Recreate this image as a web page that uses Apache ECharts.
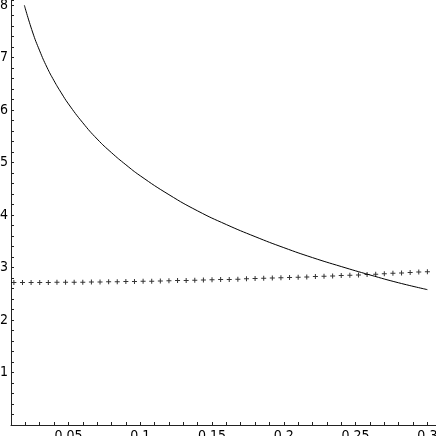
<!DOCTYPE html>
<html>
<head>
<meta charset="utf-8">
<script src="https://cdn.jsdelivr.net/npm/echarts@6/dist/echarts.min.js"></script>
<style>
html, body { margin: 0; padding: 0; background: #fff; }
#chart { width: 436px; height: 436px; }
</style>
</head>
<body>
<div id="chart"></div>
<script>
// solid curve
const curveX = [0.0193, 0.025, 0.03, 0.035, 0.04, 0.045, 0.05, 0.06, 0.07, 0.08, 0.09, 0.1,
  0.12, 0.14, 0.16, 0.18, 0.2, 0.22, 0.24, 0.26, 0.28, 0.3]
const curveY = [8.0, 7.49, 7.13, 6.82, 6.56, 6.33, 6.12, 5.76, 5.45, 5.19, 4.96, 4.75,
  4.39, 4.08, 3.82, 3.59, 3.38, 3.19, 3.02, 2.86, 2.71, 2.58]

// crosses
const pointX = [0.012, 0.018, 0.024, 0.03, 0.036, 0.042, 0.048, 0.054, 0.06, 0.066,
  0.072, 0.078, 0.084, 0.09, 0.096, 0.102, 0.108, 0.114, 0.12, 0.126,
  0.132, 0.138, 0.144, 0.15, 0.156, 0.162, 0.168, 0.174, 0.18, 0.186,
  0.192, 0.198, 0.204, 0.21, 0.216, 0.222, 0.228, 0.234, 0.24, 0.246,
  0.252, 0.258, 0.264, 0.27, 0.276, 0.282, 0.288, 0.294, 0.3]
const pointY = [2.715, 2.716, 2.716, 2.717, 2.718, 2.719, 2.72, 2.722, 2.723, 2.725,
  2.727, 2.729, 2.731, 2.734, 2.736, 2.739, 2.742, 2.745, 2.748, 2.752,
  2.755, 2.759, 2.763, 2.767, 2.771, 2.775, 2.78, 2.785, 2.79, 2.795,
  2.8, 2.805, 2.811, 2.816, 2.822, 2.828, 2.835, 2.841, 2.848, 2.854,
  2.861, 2.868, 2.875, 2.883, 2.89, 2.898, 2.906, 2.914, 2.922]

const xTickValues = [0.05, 0.1, 0.15, 0.2, 0.25, 0.3]
const xTickLabels = ['0.05', '0.1', '0.15', '0.2', '0.25', '0.3']
const yTickValues = [1, 2, 3, 4, 5, 6, 7, 8]
const yTickLabels = ['1', '2', '3', '4', '5', '6', '7', '8']

const font = '"Liberation Sans Narrow", "DejaVu Sans Condensed", sans-serif'
const axisColor = '#222'

function pick(values, labels, v) {
  const i = values.findIndex((t) => Math.abs(t - v) < 1e-9)
  return i < 0 ? '' : labels[i]
}

const chart = echarts.init(document.getElementById('chart'))
chart.setOption({
  animation: false,
  backgroundColor: '#fff',
  grid: { left: 11, right: 0, top: 0, bottom: 11, outerBoundsMode: 'none', containLabel: false },
  xAxis: {
    type: 'value',
    min: 0.01,
    max: 0.306,
    interval: 0.01,
    splitLine: { show: false },
    axisLine: { onZero: false, lineStyle: { color: axisColor, width: 1 } },
    axisTick: { inside: true, length: 3, lineStyle: { color: axisColor } },
    axisLabel: {
      customValues: xTickValues,
      formatter: (v) => pick(xTickValues, xTickLabels, v),
      color: '#000',
      fontFamily: font,
      fontSize: 14,
      margin: 4
    }
  },
  yAxis: {
    type: 'value',
    min: 0,
    max: 8.1,
    interval: 0.2,
    splitLine: { show: false },
    axisLine: { onZero: false, lineStyle: { color: axisColor, width: 1 } },
    axisTick: { inside: true, length: 3, lineStyle: { color: axisColor } },
    axisLabel: {
      customValues: yTickValues,
      formatter: (v) => pick(yTickValues, yTickLabels, v),
      color: '#000',
      fontFamily: font,
      fontSize: 14,
      margin: 3
    }
  },
  series: [
    {
      type: 'line',
      smooth: true,
      showSymbol: false,
      lineStyle: { color: '#000', width: 1 },
      data: curveX.map((x, i) => [x, curveY[i]])
    },
    {
      type: 'scatter',
      symbol: 'path://M0.4,0H0.6V0.4H1V0.6H0.6V1H0.4V0.6H0V0.4H0.4Z',
      symbolSize: 5,
      itemStyle: { color: '#000' },
      data: pointX.map((x, i) => [x, pointY[i]])
    }
  ]
})
</script>
</body>
</html>
